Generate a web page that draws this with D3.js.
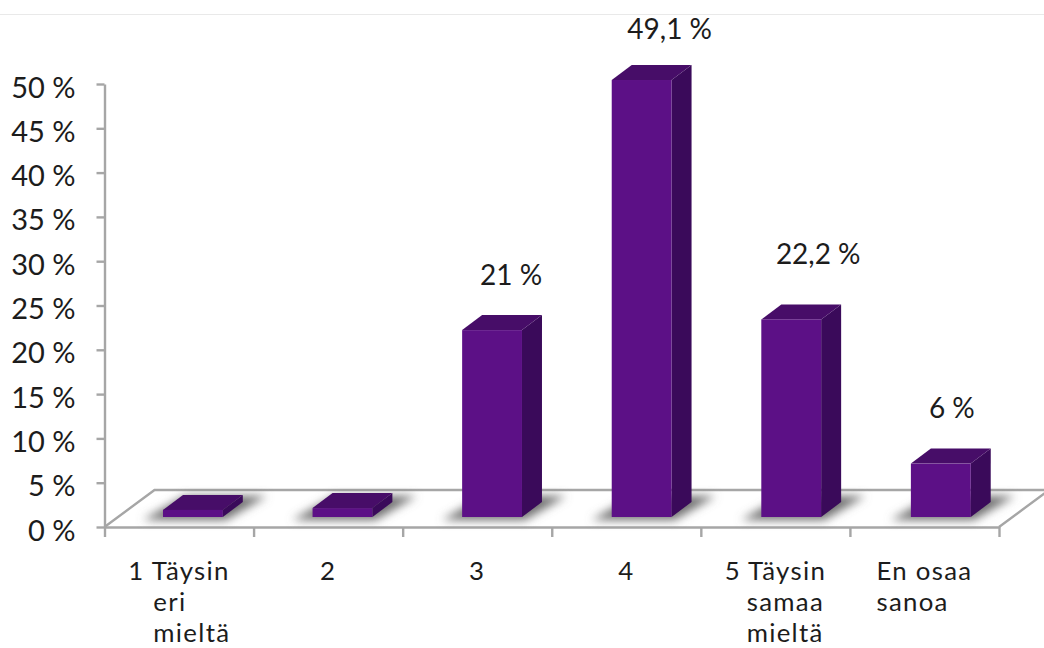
<!DOCTYPE html>
<html lang="fi">
<head>
<meta charset="utf-8">
<script src="https://cdn.jsdelivr.net/npm/d3@7/dist/d3.min.js"></script>
<style>
  html, body { margin: 0; padding: 0; background: #fff; overflow: hidden; }
  svg { display: block; }
  text { font-family: Lato, "Open Sans", sans-serif; fill: #1c1c1c; }
  .axis path, .axis line, .floor { stroke: #a6a6a6; stroke-width: 2.4; fill: none; }
  .cat { font-size: 25.8px; letter-spacing: 1.3px; }
</style>
</head>
<body>
<svg id="chart" width="1044" height="648"></svg>
<script>
// Answer shares per response option
const categories = ["1 Täysin", "2", "3", "4", "5 Täysin", "En osaa"];
const continuationLines = [["eri", "mieltä"], [], [], [], ["samaa", "mieltä"], ["sanoa"]];
const values = [0.8, 1.0, 21, 49.1, 22.2, 6];
const valueLabels = [null, null, "21 %", "49,1 %", "22,2 %", "6 %"];
const yTicks = [0, 5, 10, 15, 20, 25, 30, 35, 40, 45, 50];

// Layout
const plotLeft = 104.5, plotRight = 999, axisBase = 527, axisTop = 84;
const barBase = 517, barScaleHeight = 445, barsRight = 1002;
const depthX = 20, depthY = 15;
const floorX = 50, floorY = 37;
const barShift = 13.6;
const labelNudge = [[0, 0], [0, 0], [19, -56], [28, -52], [27, -66], [11, -57]];
const lineIndent = [25, 0, 0, 0, 22, 0];
const catBaseline = 580, catLeading = 31;

const svg = d3.select("#chart");

const defs = svg.append("defs");
defs.append("filter").attr("id", "soft")
  .attr("x", "-30%").attr("y", "-60%").attr("width", "160%").attr("height", "220%")
  .append("feGaussianBlur").attr("stdDeviation", 5);

const yScale = d3.scaleLinear().domain([0, 50]).range([axisBase, axisTop]);
const barHeight = d3.scaleLinear().domain([0, 50]).range([0, barScaleHeight]);
const xScale = d3.scaleBand().domain(categories).range([plotLeft, barsRight])
  .paddingInner(0.6).paddingOuter(0.3);
const edge = d3.scaleLinear().domain([0, categories.length]).range([plotLeft, plotRight]);

// Thin rule across the top of the page
svg.append("line").attr("x1", 0).attr("x2", 1044).attr("y1", 14.5).attr("y2", 14.5)
  .attr("stroke", "#e9e9e9").attr("stroke-width", 1);

// Floor of the 3D plot
svg.append("path").attr("class", "floor")
  .attr("d", d3.line()([
    [plotLeft, axisBase],
    [plotLeft + floorX, axisBase - floorY],
    [plotRight + floorX, axisBase - floorY],
    [plotRight, axisBase]
  ]));

// Axes
const yAxis = svg.append("g").attr("class", "axis")
  .attr("transform", `translate(${plotLeft},0)`)
  .call(d3.axisLeft(yScale).tickValues(yTicks).tickSize(8).tickSizeOuter(0)
    .tickFormat(d => `${d} %`));
yAxis.selectAll("text").style("font-size", "29px").attr("dy", "13px").attr("x", -29);

svg.append("g").attr("class", "axis")
  .attr("transform", `translate(0,${axisBase})`)
  .call(d3.axisBottom(edge).tickValues(d3.range(categories.length + 1))
    .tickSize(10).tickSizeOuter(0).tickFormat(""));

const facePath = d3.line();
const bars = svg.append("g").selectAll("g").data(categories.map((c, i) => ({ c, i, v: values[i] })))
  .join("g");

const barLeft = d => xScale(d.c) + barShift;
const barW = xScale.bandwidth();
const barTop = d => barBase - barHeight(d.v);

// Soft shadow cast on the floor
bars.append("path")
  .attr("d", d => facePath([
    [barLeft(d) - 20, barBase + 3],
    [barLeft(d) + barW + 3, barBase + 3],
    [barLeft(d) + barW + 44, barBase - 21],
    [barLeft(d) + 22, barBase - 21]
  ]))
  .attr("fill", "#707070")
  .attr("filter", "url(#soft)");

// Side, top and front faces of each bar
bars.append("path")
  .attr("d", d => facePath([
    [barLeft(d) + barW, barBase], [barLeft(d) + barW + depthX, barBase - depthY],
    [barLeft(d) + barW + depthX, barTop(d) - depthY], [barLeft(d) + barW, barTop(d)]
  ]) + "Z")
  .attr("fill", "#3a0a5a");
bars.append("path")
  .attr("d", d => facePath([
    [barLeft(d), barTop(d)], [barLeft(d) + depthX, barTop(d) - depthY],
    [barLeft(d) + barW + depthX, barTop(d) - depthY], [barLeft(d) + barW, barTop(d)]
  ]) + "Z")
  .attr("fill", "#470d68");
bars.append("rect")
  .attr("x", barLeft).attr("y", barTop)
  .attr("width", barW).attr("height", d => barHeight(d.v))
  .attr("fill", "#5c1086");

// Value labels above the bars
bars.filter(d => valueLabels[d.i] !== null).append("text")
  .attr("x", d => barLeft(d) + barW / 2 + labelNudge[d.i][0])
  .attr("y", d => barTop(d) + labelNudge[d.i][1])
  .attr("text-anchor", "middle")
  .attr("dominant-baseline", "central")
  .style("font-size", "28px")
  .text(d => valueLabels[d.i]);

// Category labels: first line centred under the slot, later lines aligned to its indent
const slotCentre = i => edge(i + 0.5);
const catLabels = svg.append("g").selectAll("g").data(categories).join("g");
catLabels.append("text")
  .attr("class", "cat first")
  .attr("x", (d, i) => slotCentre(i))
  .attr("y", catBaseline)
  .attr("text-anchor", "middle")
  .text(d => d);
catLabels.each(function (d, i) {
  const first = d3.select(this).select("text.first");
  const width = first.node().getComputedTextLength();
  const start = slotCentre(i) - width / 2 + lineIndent[i];
  continuationLines[i].forEach((t, k) => {
    d3.select(this).append("text")
      .attr("class", "cat")
      .attr("x", start)
      .attr("y", catBaseline + catLeading * (k + 1))
      .text(t);
  });
});
</script>
</body>
</html>
